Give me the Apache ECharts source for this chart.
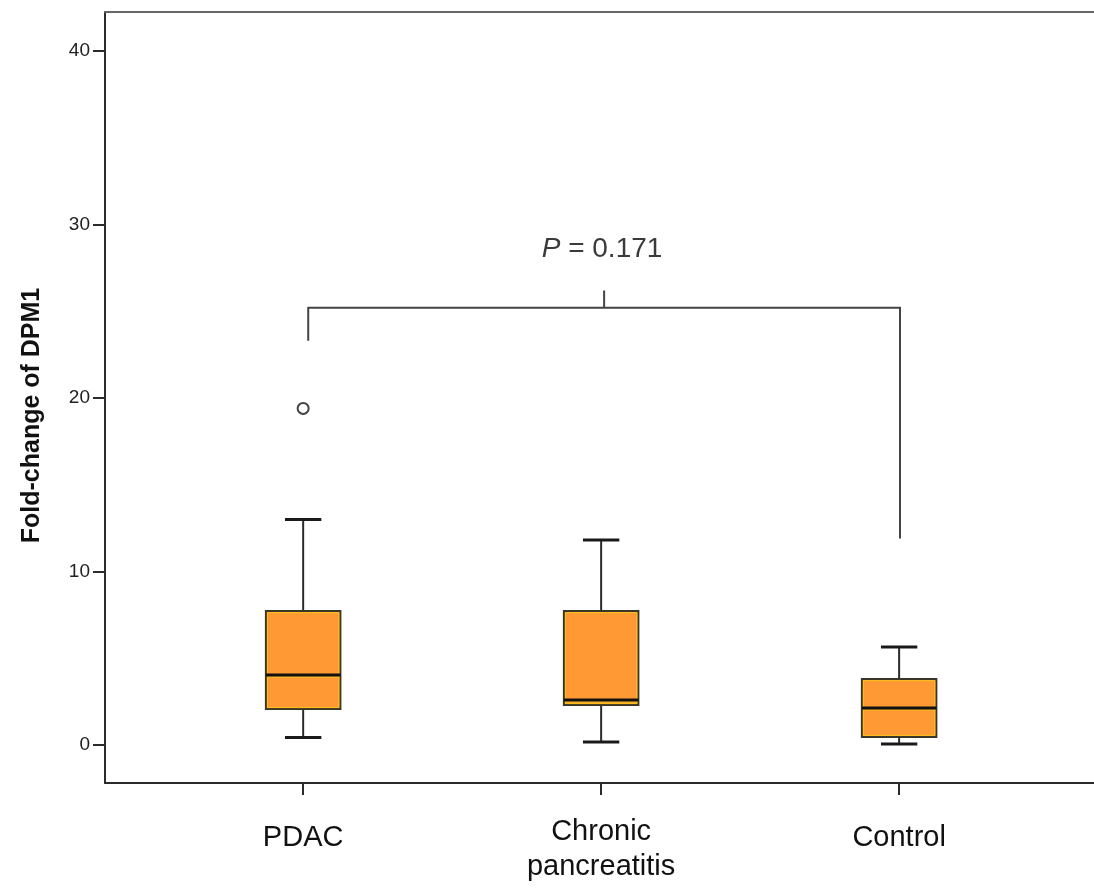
<!DOCTYPE html>
<html>
<head>
<meta charset="utf-8">
<title>Fold-change of DPM1</title>
<script src="https://cdn.jsdelivr.net/npm/echarts@6/dist/echarts.min.js"></script>
<style>
  html, body { margin: 0; padding: 0; background: #fff; }
  #chart { width: 1094px; height: 888px; }
</style>
</head>
<body>
<div id="chart"></div>
<script>
// Groups and their positions on the x scale
const groups = ['PDAC', 'Chronic\npancreatitis', 'Control'];
const groupPos = [1, 2, 3];

// Box-plot summaries per group
const whiskerLow = [0.43, 0.17, 0.06];
const lowerQuartile = [2.07, 2.30, 0.46];
const medians = [4.03, 2.60, 2.13];
const upperQuartile = [7.72, 7.72, 3.80];
const whiskerHigh = [13.0, 11.82, 5.65];

// Outliers: group position and value
const outlierPos = [1];
const outlierValue = [19.4];

// Y tick values
const yTicks = [0, 10, 20, 30, 40];

// Significance bracket between PDAC and Control
const bracketX = [1.017, 3.003];     // left and right legs
const bracketLevel = 25.2;           // horizontal bar
const bracketLegEnd = [23.3, 11.9];  // bottom of left and right legs
const bracketTickX = 2.01;
const bracketTickTop = 26.2;
const pLabelPos = [2.003, 28.6];
const pValue = '0.171';

const X_MIN = 0.335;
const X_MAX = 3.654;
const BOX_HALF = 0.125;
const CAP_HALF = 0.061;
const LINE = '#2b2b2b';

const boxData = groupPos.map((x, i) => [
  x, whiskerLow[i], lowerQuartile[i], medians[i], upperQuartile[i], whiskerHigh[i]
]);

function renderBox(params, api) {
  const x = api.value(0);
  const lo = api.coord([x, api.value(1)]);
  const q1 = api.coord([x, api.value(2)]);
  const md = api.coord([x, api.value(3)]);
  const q3 = api.coord([x, api.value(4)]);
  const hi = api.coord([x, api.value(5)]);
  const left = api.coord([x - BOX_HALF, 0])[0];
  const right = api.coord([x + BOX_HALF, 0])[0];
  const capL = api.coord([x - CAP_HALF, 0])[0];
  const capR = api.coord([x + CAP_HALF, 0])[0];
  const cx = lo[0];
  const line = (x1, y1, x2, y2, w, c) => ({
    type: 'line',
    shape: { x1, y1, x2, y2 },
    style: { stroke: c || LINE, lineWidth: w }
  });
  return {
    type: 'group',
    children: [
      line(cx, q3[1], cx, hi[1], 2),
      line(cx, q1[1], cx, lo[1], 2),
      line(capL, hi[1], capR, hi[1], 3, '#1a1a1a'),
      line(capL, lo[1], capR, lo[1], 3, '#1a1a1a'),
      {
        type: 'rect',
        shape: { x: left, y: q3[1], width: right - left, height: q1[1] - q3[1] },
        style: { fill: '#FF9933', stroke: '#3a3528', lineWidth: 2 }
      },
      {
        type: 'rect',
        shape: { x: left + 1.5, y: q3[1] + 1.5, width: right - left - 3, height: q1[1] - q3[1] - 3 },
        style: { fill: null, stroke: '#F7C21A', lineWidth: 1 }
      },
      line(left + 1, md[1] + 2, right - 1, md[1] + 2, 1, '#F7C21A'),
      line(left, md[1], right, md[1], 3, '#111')
    ]
  };
}

function renderBracket(params, api) {
  const l0 = api.coord([bracketX[0], bracketLegEnd[0]]);
  const l1 = api.coord([bracketX[0], bracketLevel]);
  const r1 = api.coord([bracketX[1], bracketLevel]);
  const r0 = api.coord([bracketX[1], bracketLegEnd[1]]);
  const t0 = api.coord([bracketTickX, bracketLevel]);
  const t1 = api.coord([bracketTickX, bracketTickTop]);
  const lp = api.coord(pLabelPos);
  return {
    type: 'group',
    children: [
      {
        type: 'polyline',
        shape: { points: [l0, l1, r1, r0] },
        style: { fill: null, stroke: '#444', lineWidth: 2 }
      },
      {
        type: 'line',
        shape: { x1: t0[0], y1: t0[1], x2: t1[0], y2: t1[1] },
        style: { stroke: '#444', lineWidth: 2 }
      },
      {
        type: 'text',
        x: lp[0],
        y: lp[1],
        style: {
          text: '{i|P}{n| = ' + pValue + '}',
          align: 'center',
          verticalAlign: 'middle',
          rich: {
            i: { fontStyle: 'italic', fontSize: 28, fontFamily: 'Liberation Sans', fill: '#3a3a3a' },
            n: { fontSize: 28, fontFamily: 'Liberation Sans', fill: '#3a3a3a' }
          }
        }
      }
    ]
  };
}

const chart = echarts.init(document.getElementById('chart'), null, { renderer: 'canvas' });

chart.setOption({
  animation: false,
  backgroundColor: '#fff',
  grid: { left: 105, top: 12, right: 0, bottom: 105, show: false },
  xAxis: [
    {
      type: 'value',
      min: X_MIN,
      max: X_MAX,
      splitLine: { show: false },
      axisLine: { show: true, onZero: false, lineStyle: { color: LINE, width: 2 } },
      axisTick: {
        show: true, inside: false, length: 12,
        customValues: groupPos,
        lineStyle: { color: LINE, width: 2 }
      },
      axisLabel: {
        customValues: groupPos,
        margin: 31,
        formatter: v => {
          const name = groups[Math.round(v) - 1];
          return name.indexOf('\n') >= 0 ? name : '{s|' + name + '}';
        },
        color: '#111',
        fontSize: 29,
        lineHeight: 35,
        fontFamily: 'Liberation Sans',
        rich: {
          s: { fontSize: 29, lineHeight: 35, padding: [13, 0, 0, 0], color: '#111', fontFamily: 'Liberation Sans' }
        }
      }
    },
    {
      // plain frame line along the top of the plot
      type: 'value',
      position: 'top',
      min: X_MIN,
      max: X_MAX,
      splitLine: { show: false },
      axisLine: { show: true, onZero: false, lineStyle: { color: '#666', width: 2 } },
      axisTick: { show: false },
      axisLabel: { show: false }
    }
  ],
  yAxis: {
    type: 'value',
    min: -2.19,
    max: 42.25,
    name: 'Fold-change of DPM1',
    nameLocation: 'middle',
    nameGap: 60,
    nameTextStyle: {
      fontSize: 25, fontWeight: 'bold', color: '#111',
      fontFamily: 'Liberation Sans', padding: [0, 36, 0, 0]
    },
    splitLine: { show: false },
    axisLine: { show: true, onZero: false, lineStyle: { color: LINE, width: 2 } },
    axisTick: {
      show: true, inside: false, length: 12,
      customValues: yTicks,
      lineStyle: { color: LINE, width: 2 }
    },
    axisLabel: {
      customValues: yTicks,
      margin: 15,
      color: '#222',
      fontSize: 19,
      fontFamily: 'Liberation Sans'
    }
  },
  series: [
    {
      type: 'custom',
      name: 'boxes',
      renderItem: renderBox,
      encode: { x: 0, y: [1, 2, 3, 4, 5] },
      data: boxData,
      z: 3
    },
    {
      type: 'scatter',
      name: 'outliers',
      symbol: 'circle',
      symbolSize: 11,
      itemStyle: { color: '#fff', borderColor: '#444', borderWidth: 2, opacity: 1 },
      data: outlierPos.map((x, i) => [x, outlierValue[i]]),
      z: 4
    },
    {
      type: 'custom',
      name: 'bracket',
      renderItem: renderBracket,
      data: [[bracketTickX, bracketLevel]],
      z: 2
    }
  ]
});
</script>
</body>
</html>
